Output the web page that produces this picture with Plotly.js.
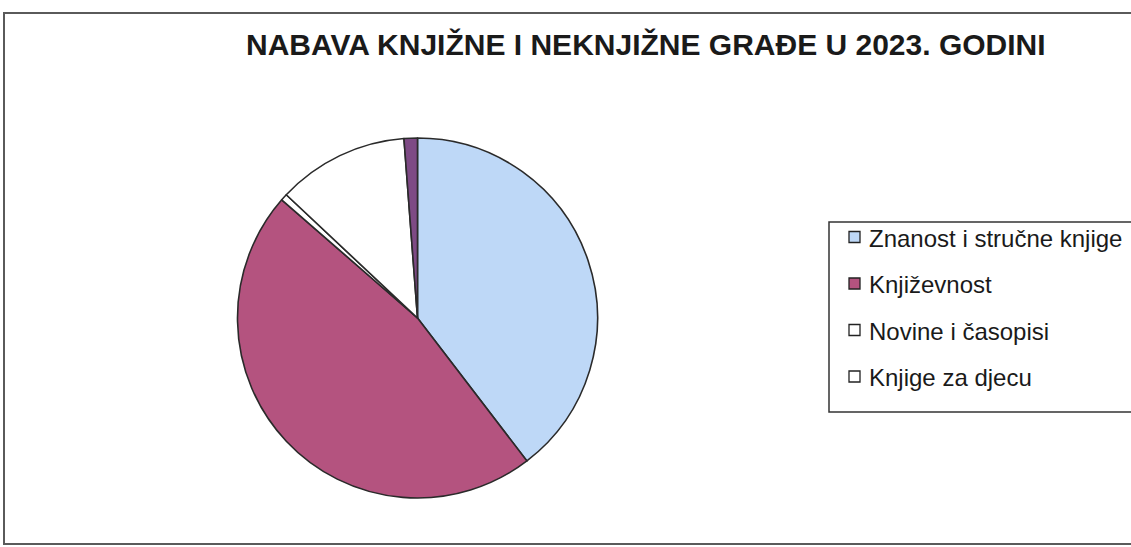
<!DOCTYPE html>
<html>
<head>
<meta charset="utf-8">
<script src="https://cdn.plot.ly/plotly-3.0.1.min.js"></script>
<style>html,body{margin:0;padding:0;background:#fff;}#chart{width:1131px;height:547px;}</style>
</head>
<body>
<div id="chart"></div>
<script>
const categories = ["Znanost i stručne knjige", "Književnost", "Novine i časopisi", "Knjige za djecu", "Ostalo"];
const values = [39.6, 46.8, 0.6, 11.8, 1.2];
const colors = ["#bed8f7", "#b4537f", "#ffffff", "#ffffff", "#7e4a85"];
const legendCount = 4;
const titleText = "NABAVA KNJIŽNE I NEKNJIŽNE GRAĐE U 2023. GODINI";

const W = 1131, H = 547;
const px = x => x / W;
const py = y => 1 - y / H;

const shapes = [
  {type: "rect", xref: "paper", yref: "paper", x0: px(4), x1: 1.02, y0: py(544), y1: py(13),
   line: {color: "#5a5a5a", width: 2}, fillcolor: "rgba(0,0,0,0)"},
  {type: "rect", xref: "paper", yref: "paper", x0: px(829), x1: 1.02, y0: py(412), y1: py(222),
   line: {color: "#333", width: 1.5}, fillcolor: "rgba(0,0,0,0)"}
];
const annotations = [
  {text: "<b>" + titleText + "</b>", xref: "paper", yref: "paper", x: px(646), y: py(45),
   xanchor: "center", yanchor: "middle", showarrow: false,
   font: {family: "Liberation Sans, Arial, sans-serif", size: 30, color: "#1a1a1a"}}
];
const rowY = [237, 283.5, 330, 376.5];
for (let i = 0; i < legendCount; i++) {
  const cy = rowY[i];
  shapes.push({type: "rect", xref: "paper", yref: "paper",
    x0: px(849), x1: px(860), y0: py(cy + 5.5), y1: py(cy - 5.5),
    line: {color: "#222", width: 1.3}, fillcolor: colors[i]});
  annotations.push({text: categories[i], xref: "paper", yref: "paper",
    x: px(867), y: py(cy + 1), xanchor: "left", yanchor: "middle", showarrow: false,
    font: {family: "Liberation Sans, Arial, sans-serif", size: 24, color: "#1a1a1a"}});
}

const data = [{
  type: "pie",
  labels: categories,
  values: values,
  sort: false,
  direction: "clockwise",
  rotation: 0,
  textinfo: "none",
  hoverinfo: "label+percent",
  marker: {colors: colors, line: {color: "#2a2a2a", width: 1.6}},
  domain: {x: [px(237.5), px(597.5)], y: [py(498), py(138)]},
  showlegend: false
}];

const layout = {
  width: W, height: H,
  margin: {l: 0, r: 0, t: 0, b: 0},
  paper_bgcolor: "#ffffff",
  plot_bgcolor: "#ffffff",
  showlegend: false,
  shapes: shapes,
  annotations: annotations
};

Plotly.newPlot("chart", data, layout, {displayModeBar: false, staticPlot: true});
</script>
</body>
</html>
